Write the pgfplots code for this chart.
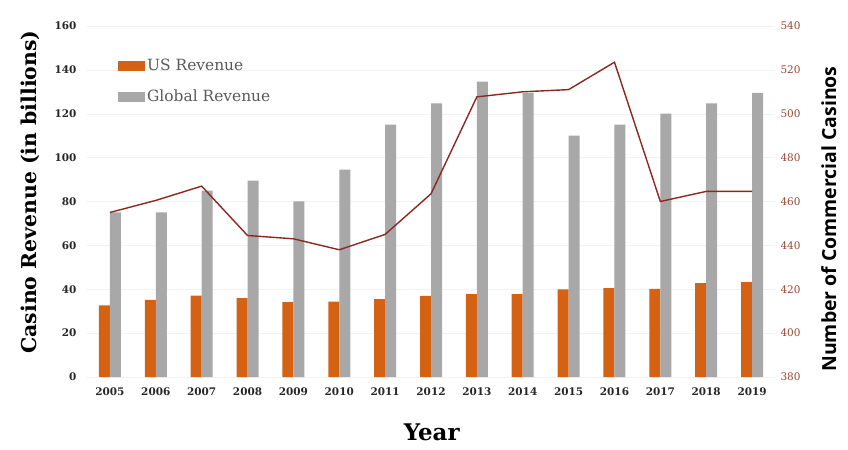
\documentclass[border=0pt]{standalone}
\usepackage{pgfplots}
\pgfplotsset{compat=1.18}
\usepackage{fontspec}
\setmainfont{DejaVu Serif}
\newfontfamily\labsans{Open Sans}
\definecolor{usor}{RGB}{212,98,18}
\definecolor{glgray}{RGB}{168,168,168}
\definecolor{linered}{RGB}{140,40,32}
\definecolor{ticbrown}{RGB}{150,70,50}
\begin{document}
\begin{tikzpicture}
\begin{axis}[
  name=ax,
  scale only axis, width=688bp, height=351bp,
  xmin=-0.5, xmax=14.5, ymin=0, ymax=160,
  xtick={0,1,2,3,4,5,6,7,8,9,10,11,12,13,14},
  xticklabels={2005,2006,2007,2008,2009,2010,2011,2012,2013,2014,2015,2016,2017,2018,2019},
  ytick={0,20,40,60,80,100,120,140,160},
  /pgf/number format/assume math mode=true,
  axis line style={draw=none}, major tick style={draw=none},
  ymajorgrids, grid style={black!5},
  ticklabel style={font=\bfseries\fontsize{10.5}{12}\selectfont, color=black!85},
  yticklabel style={xshift=-7bp},
  xticklabel style={yshift=-7bp},
  ylabel={\bfseries Casino Revenue (in billions)},
  ylabel style={at={(rel axis cs:-0.083,0.527)}, anchor=center, font=\fontsize{20.5}{24}\selectfont},
  xlabel={\bfseries Year},
  xlabel style={at={(rel axis cs:0.501,-0.157)}, anchor=center, font=\fontsize{23}{26}\selectfont},
  legend style={at={(rel axis cs:0.045,0.912)}, anchor=north west, draw=none, fill=none,
    font=\fontsize{15.5}{18}\selectfont\color{black!65}, row sep=14bp, inner sep=0pt},
  legend cell align=left,
  legend image code/.code={\fill[#1] (0bp,-5bp) rectangle (27bp,5bp);},
]
\addplot[ybar, bar width=11bp, bar shift=-5.5bp, fill=usor, draw=none] coordinates {
  (0,32.6) (1,35.2) (2,37.1) (3,35.9) (4,34.1) (5,34.4) (6,35.5) (7,37.0)
  (8,37.8) (9,37.8) (10,40.0) (11,40.5) (12,40.2) (13,42.8) (14,43.2)};
\addlegendentry{US Revenue}
\addplot[ybar, bar width=11bp, bar shift=5.5bp, fill=glgray, draw=none] coordinates {
  (0,75) (1,75) (2,85) (3,89.5) (4,80) (5,94.5) (6,115) (7,124.7)
  (8,134.6) (9,129.5) (10,110) (11,115) (12,120) (13,124.7) (14,129.5)};
\addlegendentry{Global Revenue}
\end{axis}
\begin{axis}[
  scale only axis, width=688bp, height=351bp,
  xmin=-0.5, xmax=14.5, ymin=380, ymax=540,
  axis x line=none, axis y line*=right,
  ytick={380,400,420,440,460,480,500,520,540},
  /pgf/number format/assume math mode=true,
  axis line style={draw=none}, major tick style={draw=none},
  yticklabel style={font=\fontsize{10.5}{12}\selectfont, color=ticbrown, xshift=2bp},
  ylabel={\labsans\bfseries Number of Commercial Casinos},
  ylabel style={at={(rel axis cs:1.078,0.45)}, anchor=center, font=\fontsize{19.5}{22}\selectfont},
]
\addplot[linered, line width=1.4bp, mark=none] coordinates {
  (0,455) (1,460.5) (2,467) (3,444.5) (4,443) (5,438) (6,445) (7,463.5)
  (8,507.7) (9,510) (10,511) (11,523.5) (12,460) (13,464.6) (14,464.6)};
\end{axis}
\pgfresetboundingbox
\path[use as bounding box] ([shift={(-87bp,-73bp)}]ax.south west) rectangle ([shift={(73bp,26bp)}]ax.north east);
\end{tikzpicture}
\end{document}
